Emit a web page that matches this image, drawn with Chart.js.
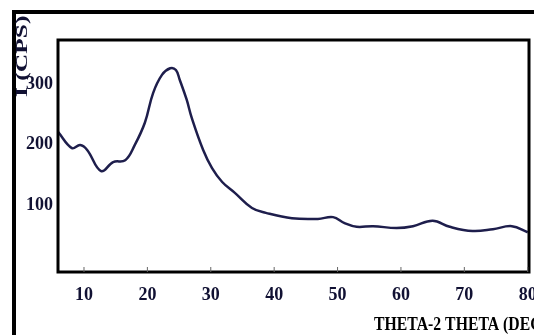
<!DOCTYPE html>
<html>
<head>
<meta charset="utf-8">
<script src="https://cdn.jsdelivr.net/npm/chart.js@4/dist/chart.umd.min.js"></script>
<style>
  html, body { margin: 0; padding: 0; background: #fff; }
  #wrap { width: 534px; height: 335px; }
</style>
</head>
<body>
<div id="wrap"><canvas id="xrd" width="534" height="335"></canvas></div>
<script>
'use strict';

// values
const theta = [5.9, 8.1, 9.4, 10.5, 12.7, 14.6, 16.5, 18.0, 19.6, 20.9, 22.3, 23.6, 24.5, 25.1, 26.2, 27.0,
    28.8, 30.2, 31.8, 33.8, 36.5, 38.7, 42.8, 46.9, 49.3, 51.1, 53.0, 55.6, 59.3, 61.9, 65.0, 67.7,
    71.3, 74.5, 77.5, 80.0];
const intensity = [221, 194, 199, 191, 156, 171, 174, 199, 236, 285, 315, 326, 323, 307, 274, 244,
    191, 161, 138, 120, 95, 87, 78, 77, 80, 70, 64, 65, 62, 65, 74, 64,
    57, 60, 65, 55];
const xTicks = [10, 20, 30, 40, 50, 60, 70, 80];
const yTicks = [100, 200, 300];
const xTitle = 'THETA-2 THETA (DEG)';
const yTitle = 'I (CPS)';

const INK = '#111133';
const TICK_FONT = { family: '"Liberation Serif", serif', size: 18, weight: 'bold' };

const points = theta.map((t, i) => ({ x: t, y: intensity[i] }));

// frame, plot box and axis titles
const framePlugin = {
    id: 'frame',
    beforeDraw(chart) {
        const ctx = chart.ctx;
        ctx.save();
        ctx.fillStyle = '#fff';
        ctx.fillRect(0, 0, chart.width, chart.height);
        ctx.restore();
    },
    afterDraw(chart) {
        const ctx = chart.ctx;
        const a = chart.chartArea;
        ctx.save();
        // outer frame (open to the right and bottom)
        ctx.strokeStyle = '#000';
        ctx.lineWidth = 4;
        ctx.beginPath();
        ctx.moveTo(14, chart.height);
        ctx.lineTo(14, 12);
        ctx.lineTo(chart.width, 12);
        ctx.stroke();
        // plot box
        ctx.lineWidth = 3;
        ctx.strokeRect(a.left, a.top, a.right - a.left, a.bottom - a.top);
        // small inner ticks
        ctx.lineWidth = 1;
        ctx.strokeStyle = '#666';
        const xs = chart.scales.x;
        xTicks.forEach(v => {
            const px = xs.getPixelForValue(v);
            ctx.beginPath();
            ctx.moveTo(px, a.bottom);
            ctx.lineTo(px, a.bottom - 5);
            ctx.stroke();
        });
        ctx.restore();

        // titles (the scan is stretched vertically, so the glyphs are scaled to suit)
        ctx.save();
        ctx.fillStyle = '#000';
        ctx.font = 'bold 19px "Liberation Serif", "DejaVu Serif", serif';
        ctx.textBaseline = 'alphabetic';
        ctx.textAlign = 'left';
        ctx.translate(374, 330);
        ctx.scale(0.83, 1);
        ctx.fillText(xTitle, 0, 0);
        ctx.restore();

        ctx.save();
        ctx.fillStyle = '#111133';
        ctx.font = 'bold 17px "Liberation Serif", "DejaVu Serif", serif';
        ctx.textBaseline = 'alphabetic';
        ctx.textAlign = 'left';
        ctx.translate(27, 97);
        ctx.rotate(-Math.PI / 2);
        ctx.scale(1.5, 1);
        ctx.fillText(yTitle, 0, 0);
        ctx.restore();
    }
};

new Chart(document.getElementById('xrd'), {
    type: 'line',
    data: {
        datasets: [{
            data: points,
            borderColor: '#1e1e4c',
            borderWidth: 2.5,
            pointRadius: 0,
            tension: 0.4,
            fill: false
        }]
    },
    options: {
        responsive: false,
        animation: false,
        events: [],
        layout: { padding: { top: 40, right: 5, left: 0, bottom: 0 } },
        plugins: { legend: { display: false }, tooltip: { enabled: false } },
        scales: {
            x: {
                type: 'linear',
                min: 5.9,
                max: 80.2,
                afterBuildTicks: s => { s.ticks = xTicks.map(v => ({ value: v })); },
                afterFit: s => { s.height = 63; s.paddingLeft = 0; s.paddingRight = 0; },
                grid: { display: false, drawTicks: false },
                border: { display: false },
                ticks: { color: INK, font: TICK_FONT, padding: 13, maxRotation: 0 }
            },
            y: {
                min: -10.7,
                max: 372.7,
                afterBuildTicks: s => { s.ticks = yTicks.map(v => ({ value: v })); },
                afterFit: s => { s.width = 58; s.paddingTop = 0; s.paddingBottom = 0; },
                grid: { display: false, drawTicks: false },
                border: { display: false },
                ticks: { color: INK, font: TICK_FONT, padding: 5 }
            }
        }
    },
    plugins: [framePlugin]
});
</script>
</body>
</html>
